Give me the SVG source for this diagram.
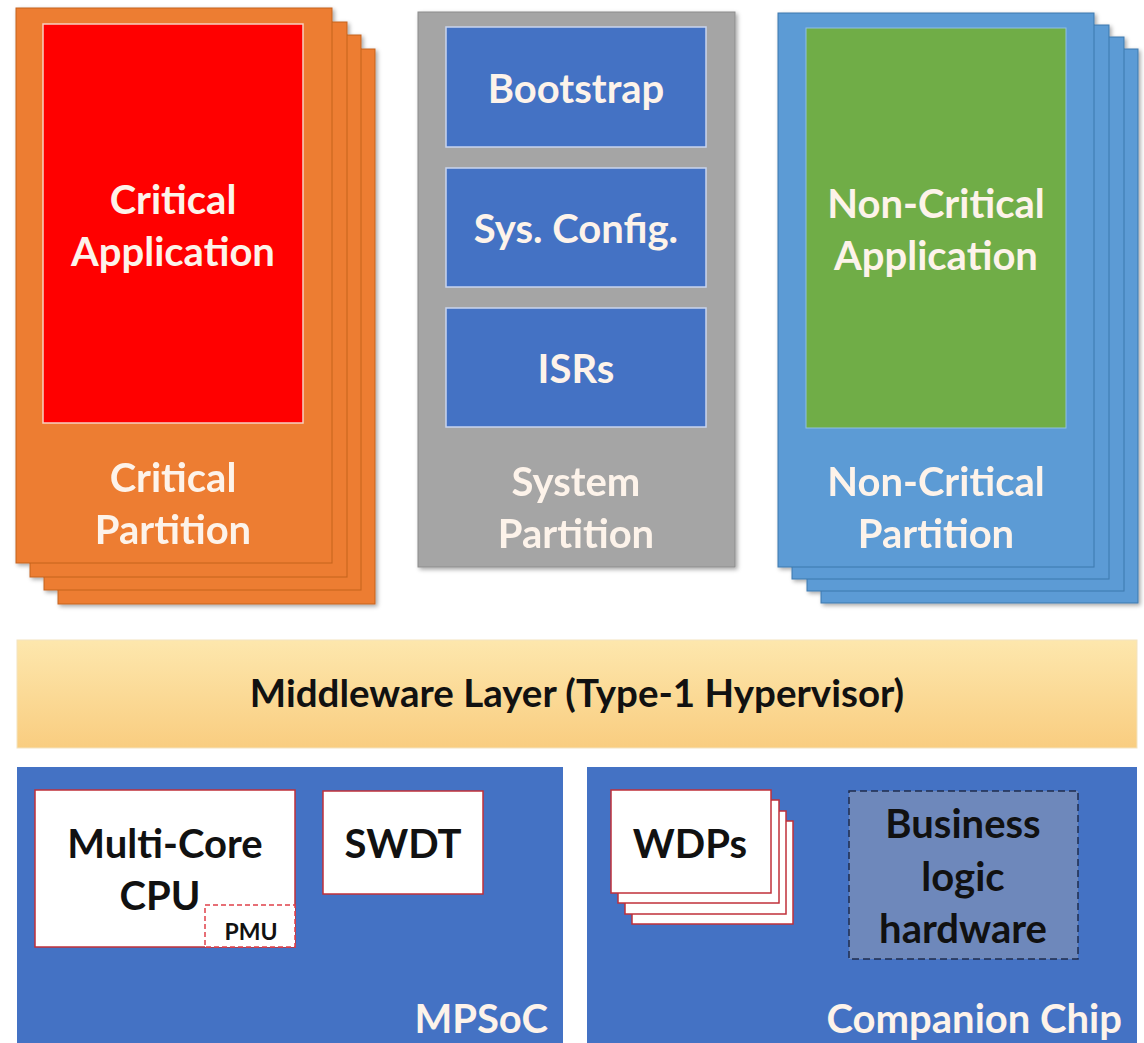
<svg xmlns="http://www.w3.org/2000/svg" width="1144" height="1043" viewBox="0 0 1144 1043">
  <style>
    .t { font-family: Lato, "Open Sans", "Liberation Sans", sans-serif; font-weight: bold; text-anchor: middle; }
    .big { font-size: 40px; fill: #fdf3ea; }
    .dark { font-size: 40px; fill: #111111; }
    .end { text-anchor: end; }
    .orange { fill: #ed7d31; stroke: #c4621f; stroke-width: 1; }
    .lblue { fill: #5b9bd5; stroke: #3f78ad; stroke-width: 1; }
    .gray { fill: #a5a5a5; stroke: #8c8c8c; stroke-width: 1; }
    .blue { fill: #4472c4; stroke: #c9d5ee; stroke-width: 1.5; }
    .chip { fill: #4472c4; }
    .white { fill: #ffffff; stroke: #c0303a; stroke-width: 1.5; }
  </style>
  <defs>
    <filter id="shadow" x="-10%" y="-10%" width="130%" height="130%">
      <feDropShadow dx="2" dy="2" stdDeviation="2" flood-color="#000000" flood-opacity="0.35"/>
    </filter>
    <linearGradient id="mw" x1="0" y1="0" x2="0" y2="1">
      <stop offset="0" stop-color="#fde7ad"/>
      <stop offset="1" stop-color="#f9cd80"/>
    </linearGradient>
  </defs>
  <rect width="1144" height="1043" fill="#ffffff"/>

  <!-- Critical partition stack -->
  <g id="critical-partition" filter="url(#shadow)">
    <rect class="orange" x="58" y="49" width="317" height="555"/>
    <rect class="orange" x="44" y="35" width="317" height="555"/>
    <rect class="orange" x="30" y="22" width="317" height="555"/>
    <rect class="orange" x="16" y="8" width="316" height="555"/>
    <text class="t big" x="173" y="492">Critical</text>
    <text class="t big" x="173" y="544">Partition</text>
  </g>
  <g id="critical-application">
    <rect x="43" y="24" width="260" height="399" fill="#ff0000" stroke="#f7d0c0" stroke-width="1.5"/>
    <text class="t big" x="173" y="214">Critical</text>
    <text class="t big" x="173" y="266">Application</text>
  </g>

  <!-- System partition -->
  <g id="system-partition" filter="url(#shadow)">
    <rect class="gray" x="418" y="12" width="317" height="555"/>
    <text class="t big" x="576" y="496">System</text>
    <text class="t big" x="576" y="548">Partition</text>
  </g>
  <g id="bootstrap">
    <rect class="blue" x="446" y="27" width="260" height="120"/>
    <text class="t big" x="576" y="103">Bootstrap</text>
  </g>
  <g id="sys-config">
    <rect class="blue" x="446" y="168" width="260" height="119"/>
    <text class="t big" x="576" y="243">Sys. Config.</text>
  </g>
  <g id="isrs">
    <rect class="blue" x="446" y="308" width="260" height="119"/>
    <text class="t big" x="576" y="383">ISRs</text>
  </g>

  <!-- Non-critical partition stack -->
  <g id="non-critical-partition" filter="url(#shadow)">
    <rect class="lblue" x="821" y="49" width="317" height="554"/>
    <rect class="lblue" x="807" y="37" width="317" height="554"/>
    <rect class="lblue" x="792" y="25" width="317" height="554"/>
    <rect class="lblue" x="778" y="13" width="316" height="554"/>
    <text class="t big" x="936" y="496">Non-Critical</text>
    <text class="t big" x="936" y="548">Partition</text>
  </g>
  <g id="non-critical-application">
    <rect x="806" y="28" width="260" height="400" fill="#70ad47" stroke="#8fc0e6" stroke-width="1"/>
    <text class="t big" x="936" y="218">Non-Critical</text>
    <text class="t big" x="936" y="270">Application</text>
  </g>

  <!-- Hypervisor layer -->
  <g id="middleware">
    <rect x="17" y="640" width="1120" height="108" fill="url(#mw)" stroke="#f3e3c0" stroke-width="1"/>
    <text class="t" x="577" y="707" font-size="38.5" fill="#111111">Middleware Layer (Type-1 Hypervisor)</text>
  </g>

  <!-- MPSoC -->
  <g id="mpsoc">
    <rect class="chip" x="17" y="767" width="546" height="280"/>
    <text class="t big end" x="548" y="1033">MPSoC</text>
  </g>
  <g id="multi-core-cpu">
    <rect class="white" x="35" y="790" width="260" height="157"/>
    <text class="t dark" x="165" y="858">Multi-Core</text>
    <text class="t dark" x="160" y="910">CPU</text>
  </g>
  <g id="pmu">
    <rect x="205" y="905" width="90" height="42" fill="#ffffff" stroke="#e0404a" stroke-width="1.5" stroke-dasharray="5 3"/>
    <text class="t" x="251" y="940" font-size="23" fill="#111111">PMU</text>
  </g>
  <g id="swdt">
    <rect class="white" x="323" y="791" width="160" height="103"/>
    <text class="t dark" x="403" y="858">SWDT</text>
  </g>

  <!-- Companion chip -->
  <g id="companion-chip">
    <rect class="chip" x="587" y="767" width="550" height="280"/>
    <text class="t big end" x="1122" y="1033">Companion Chip</text>
  </g>
  <g id="wdps">
    <rect class="white" x="632" y="821" width="161" height="103"/>
    <rect class="white" x="625" y="811" width="161" height="103"/>
    <rect class="white" x="618" y="800" width="161" height="103"/>
    <rect class="white" x="611" y="790" width="160" height="103"/>
    <text class="t dark" x="690" y="858">WDPs</text>
  </g>
  <g id="business-logic">
    <rect x="849" y="791" width="229" height="168" fill="#6e88bb" stroke="#1f2d4e" stroke-width="1.5" stroke-dasharray="7 4"/>
    <text class="t dark" x="963" y="838">Business</text>
    <text class="t dark" x="963" y="891">logic</text>
    <text class="t dark" x="963" y="943">hardware</text>
  </g>

  <!-- no connectors are drawn between the layers -->
  <g id="connectors"/>
</svg>
